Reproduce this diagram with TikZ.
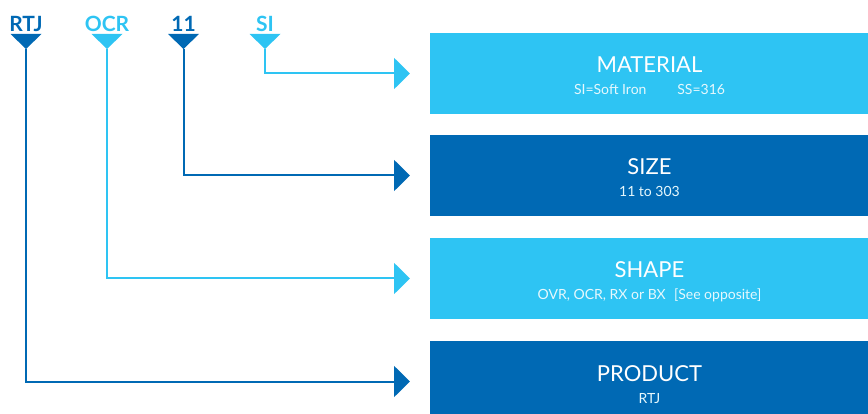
\documentclass[tikz,border=0pt]{standalone}
\usepackage{fontspec}
\setmainfont{Lato}
\usetikzlibrary{arrows.meta, positioning}
\definecolor{lightblue}{RGB}{46,196,243}
\definecolor{darkblue}{RGB}{0,105,180}

\begin{document}
\begin{tikzpicture}[x=1pt, y=-1pt, line width=2pt,
    >={Triangle[length=16pt, width=31pt]},
    box/.style={anchor=north west, minimum width=439pt, minimum height=81pt,
                inner sep=0pt},
    title/.style={anchor=base, inner sep=0pt, text=white,
                  font=\fontsize{22}{26}\selectfont},
    subtitle/.style={anchor=base, inner sep=0pt, text=white!88!lightblue,
                     font=\fontsize{14}{16}\selectfont},
    code/.style={font=\fontsize{21}{21}\selectfont\bfseries, anchor=base},
    link/.style={->, shorten >=19pt}]
  \useasboundingbox (0,0) rectangle (868,414);

  % boxes with their texts
  \foreach \name/\y/\col/\head/\sub in {
      material/32/lightblue/MATERIAL/{SI=Soft Iron\hspace{2.2em}SS=316},
      size/134/darkblue/SIZE/{11 to 303},
      shape/237/lightblue/SHAPE/{OVR, OCR, RX or BX\hspace{0.6em}[See opposite]},
      product/340/darkblue/PRODUCT/RTJ} {
    \node[box, fill=\col] (\name) at (429,\y) {};
    \node[title] (\name-head) at ([yshift=-41pt]\name.north) {\head};
    \node[subtitle] (\name-sub) at ([yshift=-63pt]\name.north) {\sub};
  }

  % codes with markers and links
  \foreach \name/\txt/\x/\col/\target in {rtj/RTJ/26/darkblue/product,
      ocr/OCR/107/lightblue/shape, n11/11/183.5/darkblue/size,
      si/SI/265/lightblue/material} {
    \node[code, text=\col] (\name) at (\x,32) {\txt};
    \coordinate (\name-tip) at (\x,49);
    \fill[\col] (\name-tip) -- ++(-15.5,-15) -- ++(31,0) -- cycle;
    \draw[link, \col] (\name-tip) |- (\target.west);
  }
\end{tikzpicture}
\end{document}
